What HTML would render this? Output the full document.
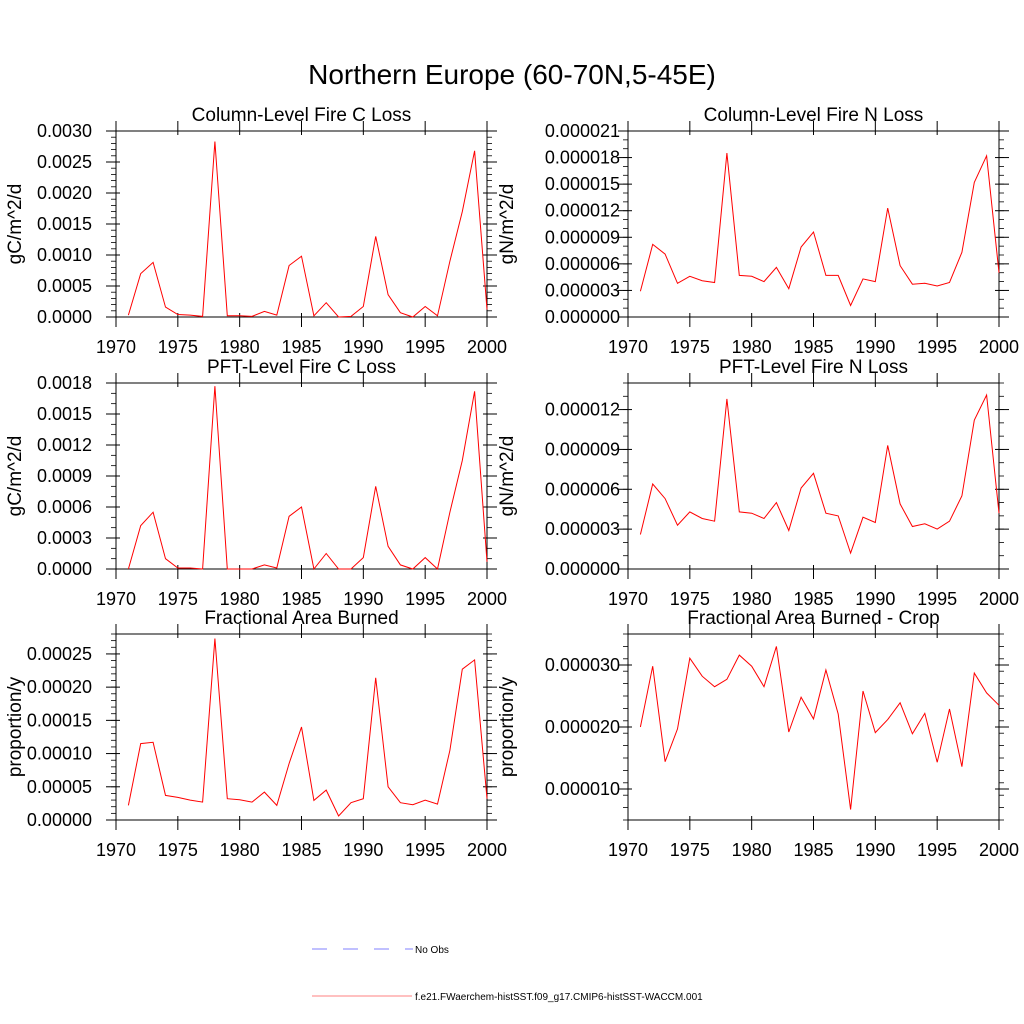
<!DOCTYPE html>
<html><head><meta charset="utf-8"><style>
html,body{margin:0;padding:0;background:#fff;}
svg{display:block;font-family:"Liberation Sans",sans-serif;}
</style></head><body>
<svg id="chart" width="1024" height="1024" viewBox="0 0 1024 1024">
<text x="512" y="84" font-size="28" text-anchor="middle">Northern Europe (60-70N,5-45E)</text>
<g>
<line x1="312" y1="949" x2="413" y2="949" stroke="#8080ff" stroke-width="1" stroke-dasharray="15,16"/>
<text x="415" y="953" font-size="10">No Obs</text>
<line x1="312" y1="996" x2="412" y2="996" stroke="#ff8080" stroke-width="1"/>
<text x="415" y="1000" font-size="10">f.e21.FWaerchem-histSST.f09_g17.CMIP6-histSST-WACCM.001</text>
</g>
</svg>
<script>
const years = [1971,1972,1973,1974,1975,1976,1977,1978,1979,1980,1981,1982,1983,1984,1985,1986,1987,1988,1989,1990,1991,1992,1993,1994,1995,1996,1997,1998,1999,2000];
const xTicks = [1970,1975,1980,1985,1990,1995,2000];
const colCLoss = [0.00003,0.0007,0.00088,0.00016,0.00004,0.00003,0.00001,0.00283,0.00002,0.00002,0.00001,0.00009,0.00003,0.00083,0.00098,0.00002,0.00023,0.0,0.00001,0.00017,0.0013,0.00036,0.00007,0.0,0.00017,0.00002,0.0009,0.0017,0.00268,0.00012];
const colNLoss = [2.9e-6,8.2e-6,7.1e-6,3.8e-6,4.6e-6,4.1e-6,3.9e-6,18.5e-6,4.7e-6,4.6e-6,4.0e-6,5.6e-6,3.2e-6,7.9e-6,9.6e-6,4.7e-6,4.7e-6,1.3e-6,4.3e-6,4.0e-6,12.3e-6,5.8e-6,3.7e-6,3.8e-6,3.5e-6,3.9e-6,7.3e-6,15.2e-6,18.2e-6,5.0e-6];
const pftCLoss = [0,0.00042,0.00055,0.0001,0.00001,0.00001,0,0.00177,0,0,0,0.00004,0.00001,0.00051,0.0006,0,0.00015,0,0,0.00011,0.0008,0.00022,0.00004,0,0.00011,0,0.00055,0.00105,0.00172,0.00007];
const pftNLoss = [2.6e-6,6.4e-6,5.3e-6,3.3e-6,4.3e-6,3.8e-6,3.6e-6,12.8e-6,4.3e-6,4.2e-6,3.8e-6,5.0e-6,2.9e-6,6.1e-6,7.2e-6,4.2e-6,4.0e-6,1.2e-6,3.9e-6,3.5e-6,9.3e-6,4.9e-6,3.2e-6,3.4e-6,3.0e-6,3.6e-6,5.5e-6,11.2e-6,13.1e-6,4.2e-6];
const areaBurned = [2.2e-5,11.5e-5,11.7e-5,3.7e-5,3.4e-5,3.0e-5,2.7e-5,27.3e-5,3.2e-5,3.05e-5,2.7e-5,4.2e-5,2.2e-5,8.5e-5,14.0e-5,2.95e-5,4.5e-5,0.6e-5,2.6e-5,3.2e-5,21.4e-5,5.0e-5,2.6e-5,2.3e-5,3.0e-5,2.4e-5,10.5e-5,22.7e-5,24.1e-5,3.2e-5];
const areaBurnedCrop = [20.0e-6,29.8e-6,14.4e-6,19.7e-6,31.1e-6,28.2e-6,26.5e-6,27.7e-6,31.6e-6,29.8e-6,26.5e-6,33.0e-6,19.2e-6,24.8e-6,21.3e-6,29.2e-6,22.1e-6,6.7e-6,25.8e-6,19.1e-6,21.2e-6,23.9e-6,18.9e-6,22.2e-6,14.3e-6,22.9e-6,13.6e-6,28.7e-6,25.5e-6,23.5e-6];
const ticksP1 = ["0.0000","0.0005","0.0010","0.0015","0.0020","0.0025","0.0030"];
const ticksP2 = ["0.000000","0.000003","0.000006","0.000009","0.000012","0.000015","0.000018","0.000021"];
const ticksP3 = ["0.0000","0.0003","0.0006","0.0009","0.0012","0.0015","0.0018"];
const ticksP4 = ["0.000000","0.000003","0.000006","0.000009","0.000012"];
const ticksP5 = ["0.00000","0.00005","0.00010","0.00015","0.00020","0.00025"];
const ticksP6 = ["0.000010","0.000020","0.000030"];

const NS='http://www.w3.org/2000/svg';
const svg=document.getElementById('chart');
function mk(tag,attrs,parent){const e=document.createElementNS(NS,tag);for(const k in attrs)e.setAttribute(k,attrs[k]);(parent||svg).appendChild(e);return e;}

const panels=[
 {id:'col-c-loss',title:'Column-Level Fire C Loss',ylab:'gC/m^2/d',data:colCLoss,ticks:ticksP1,ymin:0,ymax:0.003,minor:0.0001,x0:116,y0:131,lo:24,yo:101},
 {id:'col-n-loss',title:'Column-Level Fire N Loss',ylab:'gN/m^2/d',data:colNLoss,ticks:ticksP2,ymin:0,ymax:0.000021,minor:0.000001,x0:628,y0:131,lo:8,yo:121},
 {id:'pft-c-loss',title:'PFT-Level Fire C Loss',ylab:'gC/m^2/d',data:pftCLoss,ticks:ticksP3,ymin:0,ymax:0.0018,minor:0.0001,x0:116,y0:383,lo:24,yo:101},
 {id:'pft-n-loss',title:'PFT-Level Fire N Loss',ylab:'gN/m^2/d',data:pftNLoss,ticks:ticksP4,ymin:0,ymax:0.000014,minor:0.000001,x0:628,y0:383,lo:8,yo:121},
 {id:'area-burned',title:'Fractional Area Burned',ylab:'proportion/y',data:areaBurned,ticks:ticksP5,ymin:0,ymax:0.00028,minor:0.00001,x0:116,y0:634,lo:24,yo:101},
 {id:'area-burned-crop',title:'Fractional Area Burned - Crop',ylab:'proportion/y',data:areaBurnedCrop,ticks:ticksP6,ymin:0.000005,ymax:0.000035,minor:0.000002,x0:628,y0:634,lo:8,yo:121}
];
const W=371,H=186;
panels.forEach(p=>{
 const g=mk('g',{});
 
 
 const xs=v=>p.x0+(v-1970)/30*W;
 const ys=v=>p.y0+H-(v-p.ymin)/(p.ymax-p.ymin)*H;
 const fr=mk('rect',{x:p.x0,y:p.y0,width:W,height:H,fill:'none',stroke:'#000','stroke-width':1},g);
 
 
 const t=mk('text',{x:p.x0+W/2,y:p.y0-10,'font-size':19,'text-anchor':'middle'},g);
 t.textContent=p.title;
 
 
 const yl=mk('text',{x:0,y:0,'font-size':19,'text-anchor':'middle',transform:`translate(${p.x0-p.yo+6},${p.y0+H/2}) rotate(-90)`},g);
 yl.textContent=p.ylab;
 
 
 const n=Math.round((p.ymax-p.ymin)/p.minor);
 for(let i=0;i<=n;i++){const y=ys(p.ymin+i*p.minor);
  mk('line',{x1:p.x0-5,x2:p.x0,y1:y,y2:y,stroke:'#000','stroke-width':0.8},g);
  mk('line',{x1:p.x0+W,x2:p.x0+W+5,y1:y,y2:y,stroke:'#000','stroke-width':0.8},g);}
 p.ticks.forEach(s=>{const v=parseFloat(s);const y=ys(v);
  mk('line',{x1:p.x0-10,x2:p.x0+4,y1:y,y2:y,stroke:'#000','stroke-width':1},g);
  mk('line',{x1:p.x0+W-4,x2:p.x0+W+10,y1:y,y2:y,stroke:'#000','stroke-width':1},g);
  const tl=mk('text',{x:p.x0-p.lo,y:y+6,'font-size':18,'text-anchor':'end'},g);
  tl.textContent=s;
  
  });
 xTicks.forEach(v=>{const x=xs(v);
  mk('line',{x1:x,x2:x,y1:p.y0+H-4,y2:p.y0+H+10,stroke:'#000','stroke-width':1},g);
  mk('line',{x1:x,x2:x,y1:p.y0-10,y2:p.y0+4,stroke:'#000','stroke-width':1},g);
  const tl=mk('text',{x:x,y:p.y0+H+36,'font-size':18,'text-anchor':'middle'},g);
  tl.textContent=v;
  
  });
 const pts=years.map((yr,i)=>xs(yr).toFixed(1)+','+ys(p.data[i]).toFixed(1)).join(' ');
 const ln=mk('polyline',{points:pts,fill:'none',stroke:'#ff0000','stroke-width':1},g);
 
 
});
</script>
</body></html>
